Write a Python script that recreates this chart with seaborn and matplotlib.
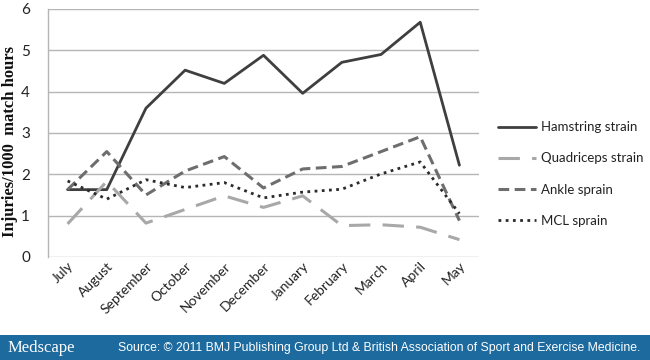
import matplotlib
matplotlib.use("Agg")
import matplotlib.pyplot as plt
import seaborn as sns
import pandas as pd
from matplotlib.patches import Rectangle

months = ["July", "August", "September", "October", "November", "December",
          "January", "February", "March", "April", "May"]
hamstring = [1.63, 1.63, 3.60, 4.52, 4.20, 4.88, 3.96, 4.71, 4.90, 5.68, 2.22]
quadriceps = [0.80, 1.83, 0.82, 1.15, 1.48, 1.20, 1.48, 0.76, 0.78, 0.72, 0.42]
ankle = [1.63, 2.55, 1.50, 2.08, 2.43, 1.67, 2.13, 2.19, 2.55, 2.91, 0.88]
mcl = [1.84, 1.40, 1.87, 1.68, 1.80, 1.43, 1.57, 1.64, 2.01, 2.30, 1.05]
series_names = ["Hamstring strain", "Quadriceps strain", "Ankle sprain", "MCL sprain"]
y_ticks = [0, 1, 2, 3, 4, 5, 6]

df = pd.DataFrame({"Month": months, series_names[0]: hamstring, series_names[1]: quadriceps,
                   series_names[2]: ankle, series_names[3]: mcl})
long = df.melt(id_vars="Month", var_name="Injury", value_name="Rate")

sns.set_theme(style="white")
plt.rcParams["font.family"] = ["Lato", "DejaVu Sans"]

fig = plt.figure(figsize=(6.5, 3.6), dpi=100)
ax = fig.add_axes([48 / 650, 1 - 257 / 360, (479 - 48) / 650, (257 - 9) / 360])

palette = {series_names[0]: "#3f3f3f", series_names[1]: "#a8a8a8",
           series_names[2]: "#6e6e6e", series_names[3]: "#2b2b2b"}
dashes = {series_names[0]: "", series_names[1]: (7, 4),
          series_names[2]: (3.5, 1.8), series_names[3]: (1, 1.6)}
widths = {series_names[0]: 2.0, series_names[1]: 2.2, series_names[2]: 2.2, series_names[3]: 2.0}

for name in series_names:
    sub = long[long["Injury"] == name]
    sns.lineplot(data=sub, x="Month", y="Rate", ax=ax, color=palette[name],
                 linewidth=widths[name], label=name, sort=False)
    line = ax.get_lines()[-1]
    if dashes[name]:
        line.set_dashes(dashes[name])

ax.set_xlim(-0.5, len(months) - 0.5)
ax.set_ylim(0, 6)
ax.set_yticks(y_ticks)
ax.yaxis.grid(True, color="#b5b5b5", linewidth=1)
ax.xaxis.grid(False)
for s in ["top", "right", "bottom"]:
    ax.spines[s].set_visible(False)
ax.spines["left"].set_color("#b5b5b5")
ax.spines["left"].set_linewidth(1)
ax.tick_params(axis="y", labelsize=11, colors="#222222", length=0, pad=13)
ax.tick_params(axis="x", labelsize=10, colors="#222222", length=0, pad=2)
plt.setp(ax.get_xticklabels(), rotation=45, ha="right", rotation_mode="anchor")
ax.set_xlabel("")
ax.set_ylabel("Injuries/1000  match hours", family=["Liberation Serif"], fontweight="bold",
              fontsize=12, color="#111111")
ax.yaxis.set_label_coords(-0.07, 0.464)

handles, labels = ax.get_legend_handles_labels()
if ax.get_legend():
    ax.get_legend().remove()
leg = fig.legend(handles, labels, loc="center left", bbox_to_anchor=(486 / 650, 1 - 174 / 360),
                 frameon=False, fontsize=9.5, handlelength=2.9, handletextpad=0.35,
                 labelspacing=1.45, labelcolor="#222222")

fig.patches.append(Rectangle((0, 0), 1, 25 / 360, transform=fig.transFigure,
                             facecolor="#1c6a9e", edgecolor="none", zorder=0))
fig.text(8 / 650, 12.5 / 360, "Medscape", family=["Liberation Serif"], fontsize=12,
         color="white", va="center", ha="left")
fig.text(118 / 650, 12.5 / 360,
         "Source: \u00a9 2011 BMJ Publishing Group Ltd & British Association of Sport and Exercise Medicine.",
         family=["Liberation Sans"], fontsize=8.8, color="white", va="center", ha="left")

fig.savefig("out.png", dpi=100)
